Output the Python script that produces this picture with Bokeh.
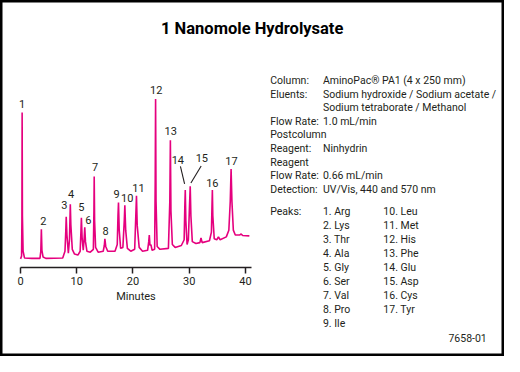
from bokeh.plotting import figure
from bokeh.models import Range1d, LinearAxis, FixedTicker, ColumnDataSource
from bokeh.core.properties import value
from bokeh.embed import file_html
from bokeh.resources import INLINE

# ---------------- data ----------------
title_text = "1 Nanomole Hydrolysate"

# chromatogram trace: retention time (min) and detector response (relative units)
trace_time = [0.0, 0.18, 0.24, 0.28, 0.33, 0.45, 0.7, 2.0, 3.45, 3.6, 3.7, 3.8, 4.0, 4.5,
              7.5, 7.9, 8.05, 8.12, 8.25, 8.5, 8.7, 8.85, 8.95, 9.2, 9.6, 10.2,
              10.6, 10.75, 10.82, 10.95, 11.15, 11.3, 11.42, 11.55, 11.8, 12.4,
              12.95, 13.05, 13.1, 13.17, 13.35, 13.8, 14.7, 14.9, 15.0, 15.15, 15.5,
              16.8, 17.2, 17.33, 17.42, 17.55, 17.8, 18.2, 18.45, 18.55, 18.7, 19.0,
              19.6, 20.3, 20.5, 20.62, 20.75, 21.1, 21.7, 22.6, 22.8, 22.9, 23.02,
              23.15, 23.22, 23.4, 23.85, 23.95, 24.02, 24.1, 24.3, 24.8, 26.3, 26.55,
              26.65, 26.75, 27.0, 27.5, 28.6, 29.1, 29.22, 29.3, 29.4, 29.62, 29.85,
              30.05, 30.18, 30.3, 30.55, 31.2, 31.9, 32.1, 32.3, 33.6, 33.95, 34.05,
              34.12, 34.2, 34.45, 34.9, 35.2, 35.5, 36.6, 37.05, 37.3, 37.45, 37.6,
              37.85, 38.2, 39.0, 39.25, 39.5, 40.7]
trace_signal = [0, 3, 40, 153, 45, 8, 1, 0.5, 0.5, 8, 31, 9, 2, 0.5,
                1, 8, 30, 44, 25, 6, 20, 57, 35, 10, 5, 4,
                8, 30, 43, 22, 9, 20, 33, 18, 8, 7,
                10, 50, 86, 40, 12, 7, 8, 14, 21, 13, 8,
                8, 15, 45, 59, 30, 11, 12, 40, 56, 30, 11,
                8, 10, 45, 66, 35, 12, 8, 9, 18, 25, 14,
                15, 14, 9, 10, 80, 167, 60, 13, 10, 11, 60,
                124, 50, 15, 12, 14, 20, 55, 72, 40, 15, 20,
                55, 76, 45, 18, 16, 17, 22, 17, 19, 28, 55,
                72, 45, 21, 20, 23, 20, 23, 30, 60, 94, 60,
                30, 25, 25, 26, 24.5, 24]

peak_number = [str(i) for i in range(1, 18)]
peak_time = [0.28, 3.7, 8.12, 8.85, 10.82, 11.42, 13.1, 15.0, 17.42, 18.55,
             20.62, 24.02, 26.65, 29.3, 30.18, 34.12, 37.45]
peak_height = [153, 31, 44, 57, 43, 33, 86, 21, 59, 56, 66, 167, 124, 72, 76, 72, 94]
peak_name = ["Arg", "Lys", "Thr", "Ala", "Gly", "Ser", "Val", "Pro", "Ile", "Leu",
             "Met", "His", "Phe", "Glu", "Asp", "Cys", "Tyr"]

x_ticks = [0, 10, 20, 30, 40]
x_label = "Minutes"

cond_labels = ["Column:", "Eluents:", "", "Flow Rate:", "Postcolumn", "Reagent:",
               "Reagent", "Flow Rate:", "Detection:"]
cond_values = ["AminoPac\u00ae PA1 (4 x 250 mm)", "Sodium hydroxide / Sodium acetate /",
               "Sodium tetraborate / Methanol", "1.0 mL/min", "", "Ninhydrin", "",
               "0.66 mL/min", "UV/Vis, 440 and 570 nm"]
peaks_heading = "Peaks:"
figure_id = "7658-01"

# ---------------- layout (reference pixel frame) ----------------
W, H = 504, 356
RW, RH = 520, 372
S = W / RW
X0_REF, PX_PER_MIN = 20.7, 5.8        # minute 0 position, px per minute
Y0_REF = 270.0                         # baseline position, 1 px per unit

def X(r):
    return (r - X0_REF) / PX_PER_MIN

def Y(r):
    return Y0_REF - r

FONT = "Roboto"
FS = "10.5px"
INK = "#231F20"
PINK = "#E5007E"

p = figure(width=W, height=H, output_backend="svg", toolbar_location=None, tools="",
           x_axis_type=None, y_axis_type=None,
           x_range=Range1d(X(0), X(RW)), y_range=Range1d(Y(RH), Y(0)),
           min_border=0, min_border_left=0, min_border_right=0,
           min_border_top=0, min_border_bottom=0)
p.background_fill_color = "white"
p.border_fill_color = "white"
p.outline_line_color = "black"
p.outline_line_width = 4

# trace
p.line(trace_time, trace_signal, line_color=PINK, line_width=1.6)

# peak labels
lab_dx = [0, 2, -2, 0.7, 0, 3.7, 1, 0.6, -2, 2.4, 2, 0.7, 0.4, -7.7, 12, 0, 0.4]
lab_dy = [-9, -8.3, -12, -11, -10.6, -7.7, -9.7, -7.6, -9, -8, -8.3, -9, -9, -30.7, -29.3, -7.3, -8.3]
src = ColumnDataSource(dict(x=peak_time, y=peak_height, t=peak_number,
                            xo=[d * S for d in lab_dx], yo=[d * S for d in lab_dy]))
p.text(x="x", y="y", text="t", x_offset="xo", y_offset="yo", source=src,
       text_font=value(FONT), text_font_size="11px", text_color=INK,
       text_align="center", text_baseline="middle")

# leader lines for peaks 14 and 15
i14, i15 = 13, 14
p.segment(x0=[peak_time[i14] - 5.0 / PX_PER_MIN, peak_time[i15] + 11.3 / PX_PER_MIN],
          y0=[peak_height[i14] + 24.7, peak_height[i15] + 21.0],
          x1=[peak_time[i14] - 0.7 / PX_PER_MIN, peak_time[i15] + 0.7 / PX_PER_MIN],
          y1=[peak_height[i14] + 6.3, peak_height[i15] + 3.3],
          line_color=INK, line_width=1.1)

# x axis
xaxis = LinearAxis(fixed_location=Y(279), bounds=(0, 41),
                   ticker=FixedTicker(ticks=x_ticks, minor_ticks=[]),
                   axis_label=x_label)
xaxis.axis_line_color = INK
xaxis.axis_line_width = 1.5
xaxis.major_tick_line_color = INK
xaxis.major_tick_line_width = 1.5
xaxis.major_tick_in = 0
xaxis.major_tick_out = 6
xaxis.minor_tick_line_color = None
xaxis.major_label_text_font = FONT
xaxis.major_label_text_font_size = "11px"
xaxis.major_label_text_color = INK
xaxis.major_label_standoff = 3
xaxis.axis_label_text_font = FONT
xaxis.axis_label_text_font_size = "11px"
xaxis.axis_label_text_font_style = "normal"
xaxis.axis_label_text_color = INK
xaxis.axis_label_standoff = 2
p.add_layout(xaxis, "below")

# title
p.text(x=[X(259.7)], y=[Y(29.7)], text=[title_text], text_font=value(FONT),
       text_font_size="16.5px", text_font_style="bold", text_color="black",
       text_align="center", text_baseline="middle")

# conditions block
row_y = [83.5 + 14.25 * i for i in range(len(cond_labels))]
p.text(x=[X(278.3)] * len(cond_labels), y=[Y(r) for r in row_y], text=cond_labels,
       text_font=value(FONT), text_font_size=FS, text_color=INK,
       text_align="left", text_baseline="middle")
p.text(x=[X(332.7)] * len(cond_values), y=[Y(r) for r in row_y], text=cond_values,
       text_font=value(FONT), text_font_size=FS, text_color=INK,
       text_align="left", text_baseline="middle")

# peaks list
pk_rows = [220 + 14.66 * i for i in range(9)]
col1 = [f"{i + 1}. {peak_name[i]}" for i in range(9)]
col2 = [f"{i + 1}. {peak_name[i]}" for i in range(9, 17)]
p.text(x=[X(278.3)], y=[Y(pk_rows[0])], text=[peaks_heading], text_font=value(FONT),
       text_font_size=FS, text_color=INK, text_align="left", text_baseline="middle")
p.text(x=[X(332.7)] * 9, y=[Y(r) for r in pk_rows], text=col1, text_font=value(FONT),
       text_font_size=FS, text_color=INK, text_align="left", text_baseline="middle")
p.text(x=[X(395.0)] * 8, y=[Y(r) for r in pk_rows[:8]], text=col2, text_font=value(FONT),
       text_font_size=FS, text_color=INK, text_align="left", text_baseline="middle")

# figure id
p.text(x=[X(501.7)], y=[Y(352.3)], text=[figure_id], text_font=value(FONT),
       text_font_size=FS, text_color=INK, text_align="right", text_baseline="middle")

open("out.html", "w").write(file_html(p, INLINE))
